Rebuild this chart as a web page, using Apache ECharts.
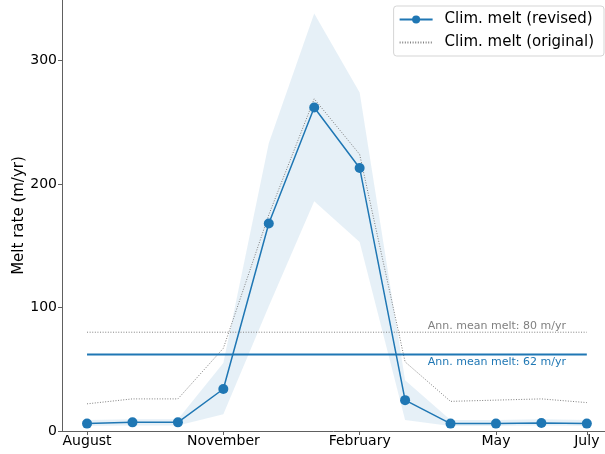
<!DOCTYPE html>
<html>
<head>
<meta charset="utf-8">
<script src="https://cdn.jsdelivr.net/npm/echarts@6/dist/echarts.min.js"></script>
<style>html,body{margin:0;padding:0;background:#fff;}#c{width:605px;height:454px;}</style>
</head>
<body>
<div id="c"></div>
<script>
const months = ['August','September','October','November','December','January','February','March','April','May','June','July'];
const revised = [6, 7, 7, 34, 168, 262, 213, 25, 6, 6, 6.5, 6];
const original = [22, 26, 26, 67, 175, 269, 224, 56, 24, 25, 26, 23];
const bandUpper = [9, 9.5, 9.5, 55, 233, 338, 274, 41, 9, 9, 9.5, 9];
const bandLower = [4, 4.5, 4.5, 13.5, 101, 186, 153, 9, 4, 4, 4.5, 4];
const meanRevised = 62;
const meanOriginal = 80;
const xTickIdx = [0, 3, 6, 9, 11];
const yTicks = [0, 100, 200, 300];

const FONT = 'DejaVu Sans';
const BLUE = '#1f77b4';
const GRAY = '#808080';
const AXIS = '#606060';
const pts = arr => arr.map((v, i) => [i, v]);
const last = months.length - 1;
const bandData = months.map((m, i) => [i, bandLower[i], bandUpper[i]]);

const chart = echarts.init(document.getElementById('c'), null, {renderer: 'canvas'});
chart.setOption({
  animation: false,
  backgroundColor: '#fff',
  textStyle: {fontFamily: FONT},
  grid: {left: 62, right: 0, top: 0, bottom: 23, containLabel: false, outerBoundsMode: 'none'},
  legend: {
    orient: 'vertical', right: 1, top: 6,
    itemWidth: 33, itemHeight: 10, itemGap: 8,
    padding: [6, 10, 6, 5],
    borderColor: '#d5d5d5', borderWidth: 1, borderRadius: 3,
    backgroundColor: 'rgba(255,255,255,0.85)',
    textStyle: {fontFamily: FONT, fontSize: 15, color: '#000', padding: [0, 0, 0, 7]},
    data: [
      {name: 'Clim. melt (revised)'},
      {name: 'Clim. melt (original)', itemStyle: {opacity: 0}}
    ]
  },
  xAxis: {
    type: 'value', min: -0.551, max: 11.40,
    axisLine: {onZero: false, lineStyle: {color: AXIS, width: 1}},
    axisTick: {show: true, customValues: xTickIdx, length: 4, lineStyle: {color: AXIS}},
    axisLabel: {customValues: xTickIdx, formatter: v => months[Math.round(v)], fontSize: 14, color: '#000', margin: 3, fontFamily: FONT},
    splitLine: {show: false}
  },
  yAxis: {
    type: 'value', min: 0, max: 349,
    name: 'Melt rate (m/yr)', nameLocation: 'middle', nameGap: 35, nameMoveOverlap: false,
    nameTextStyle: {fontSize: 15, color: '#000', fontFamily: FONT},
    axisLine: {show: true, onZero: false, lineStyle: {color: AXIS, width: 1}},
    axisTick: {show: true, customValues: yTicks, length: 4, lineStyle: {color: AXIS}},
    axisLabel: {customValues: yTicks, fontSize: 14, color: '#000', margin: 5, fontFamily: FONT},
    splitLine: {show: false}
  },
  series: [
    {
      name: 'band', type: 'custom', data: bandData, silent: true, z: 1,
      renderItem: function (params, api) {
        if (params.dataIndex !== 0) return null;
        const upper = bandData.map(d => api.coord([d[0], d[2]]));
        const lower = bandData.map(d => api.coord([d[0], d[1]])).reverse();
        return {
          type: 'polygon',
          shape: {points: upper.concat(lower)},
          style: {fill: 'rgba(31,119,180,0.11)', stroke: null}
        };
      }
    },
    {
      name: 'Clim. melt (original)', type: 'line', data: pts(original),
      symbol: 'none', itemStyle: {color: GRAY},
      lineStyle: {color: GRAY, width: 1, type: [1, 1.6]}, z: 3
    },
    {
      name: 'meanOriginal', type: 'line', data: [[0, meanOriginal], [last, meanOriginal]],
      symbol: 'none', lineStyle: {color: GRAY, width: 1, type: [1, 1.6]}, z: 3, silent: true,
      markPoint: {
        symbol: 'circle', symbolSize: 0, silent: true,
        data: [{coord: [7.5, meanOriginal]}],
        label: {show: true, formatter: 'Ann. mean melt: ' + meanOriginal + ' m/yr', position: [0, 0],
          align: 'left', verticalAlign: 'bottom', offset: [0, -1], color: GRAY, fontSize: 11, fontFamily: FONT}
      }
    },
    {
      name: 'meanRevised', type: 'line', data: [[0, meanRevised], [last, meanRevised]],
      symbol: 'none', lineStyle: {color: BLUE, width: 2}, z: 4, silent: true,
      markPoint: {
        symbol: 'circle', symbolSize: 0, silent: true,
        data: [{coord: [7.5, meanRevised]}],
        label: {show: true, formatter: 'Ann. mean melt: ' + meanRevised + ' m/yr', position: [0, 0],
          align: 'left', verticalAlign: 'top', offset: [0, 2], color: BLUE, fontSize: 11, fontFamily: FONT}
      }
    },
    {
      name: 'Clim. melt (revised)', type: 'line', data: pts(revised),
      symbol: 'circle', symbolSize: 10, showSymbol: true,
      itemStyle: {color: BLUE}, lineStyle: {color: BLUE, width: 1.5}, z: 5
    }
  ]
});
</script>
</body>
</html>
